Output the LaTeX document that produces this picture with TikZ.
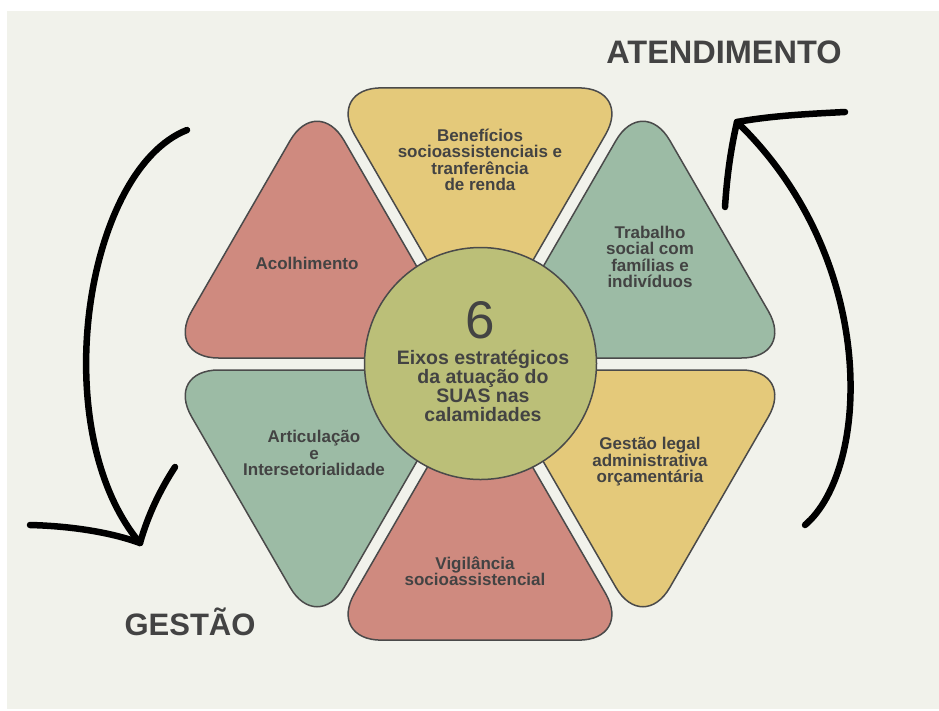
\documentclass[tikz,border=0pt]{standalone}
\usepackage{fontspec}
\setmainfont{Liberation Sans}
\usetikzlibrary{calc}
\definecolor{bg}{HTML}{F1F2EB}
\definecolor{cred}{HTML}{CF8A7F}
\definecolor{cyel}{HTML}{E4C97A}
\definecolor{cgrn}{HTML}{9CBBA5}
\definecolor{ccir}{HTML}{BBBF78}
\definecolor{edgec}{HTML}{4A4A4A}
\definecolor{txt}{HTML}{434343}
\begin{document}
\begin{tikzpicture}[x=1pt,y=-1pt,
  tri/.style={draw=edgec, line width=1.5pt, rounded corners=54pt, line join=round},
  lbl/.style={text=txt, align=center, font=\fontsize{17}{16.5}\selectfont\bfseries, inner sep=0pt},
  ctr/.style={text=txt, align=center, font=\fontsize{19.5}{19}\selectfont\bfseries, inner sep=0pt},
  big/.style={text=txt, font=\fontsize{31}{31}\selectfont\bfseries, inner sep=0pt},
  brush/.style={line width=6.5pt, line cap=round, line join=round, draw=black}
]
\useasboundingbox (0,0) rectangle (939,710);
\fill[white] (0,0) rectangle (939,710);
\fill[bg] (7,11) rectangle (939,709);

% upper row
\draw[tri, fill=cred] ($(469.61,358)!0.5!(317.11,93.86)$) -- (317.11,93.86) -- (164.61,358) -- (469.61,358) -- cycle;
\draw[tri, fill=cyel] ($(480,352)!0.5!(327.5,87.86)$) -- (327.5,87.86) -- (632.5,87.86) -- (480,352) -- cycle;
\draw[tri, fill=cgrn] ($(490.39,358)!0.5!(642.89,93.86)$) -- (642.89,93.86) -- (795.39,358) -- (490.39,358) -- cycle;
% lower row
\draw[tri, fill=cgrn] ($(469.61,370)!0.5!(164.61,370)$) -- (164.61,370) -- (317.11,634.14) -- (469.61,370) -- cycle;
\draw[tri, fill=cred] ($(480,376)!0.5!(327.5,640.14)$) -- (327.5,640.14) -- (632.5,640.14) -- (480,376) -- cycle;
\draw[tri, fill=cyel] ($(490.39,370)!0.5!(642.89,634.14)$) -- (642.89,634.14) -- (795.39,370) -- (490.39,370) -- cycle;

% hub
\node[circle, draw=edgec, line width=1.5pt, fill=ccir, minimum size=232pt, inner sep=0pt] (hub) at (480.5,363.5) {};
\node[text=txt, font=\fontsize{53}{53}\selectfont, inner sep=0pt] (six) at (480,320) {6};
\node[ctr] (hubtxt) at (483,386) {Eixos estratégicos\\da atuação do\\SUAS nas\\calamidades};

% labels
\node[lbl] (benef) at (480,160) {Benefícios\\socioassistenciais e\\tranferência\\de renda};
\node[lbl] (acolh) at (307,263) {Acolhimento};
\node[lbl] (trab) at (650,257) {Trabalho\\social com\\famílias e\\indivíduos};
\node[lbl] (artic) at (314,453) {Articulação\\e\\Intersetorialidade};
\node[lbl] (gleg) at (650,462) {Gestão legal\\administrativa\\orçamentária};
\node[lbl] (vigil) at (475,571) {Vigilância\\socioassistencial};

\node[big, font=\fontsize{32.5}{32.5}\selectfont\bfseries] (atend) at (724,52) {ATENDIMENTO};
\node[big] (gest) at (190,622) {GESTÃO};

% left arrow (down)
\draw[brush] (187,130) .. controls (85,170) and (45,430) .. (140,543);
\draw[brush] (30,525) .. controls (70,526) and (110,532) .. (140,543);
\draw[brush] (175,467) .. controls (160,490) and (148,515) .. (140,543);
% right arrow (up)
\draw[brush] (805,525) .. controls (870,470) and (880,260) .. (737,122);
\draw[brush] (845,112) .. controls (805,114) and (770,116) .. (737,122);
\draw[brush] (725,207) .. controls (727,175) and (731,148) .. (737,122);
\end{tikzpicture}
\end{document}
